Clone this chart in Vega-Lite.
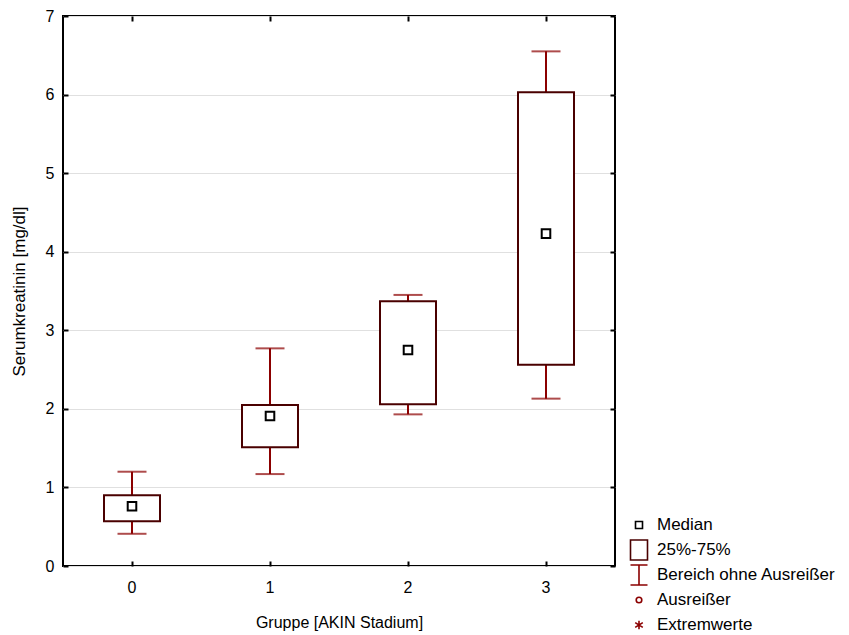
{
  "$schema": "https://vega.github.io/schema/vega-lite/v6.json",
  "autosize": {"type": "none"},
  "width": 552,
  "height": 550,
  "padding": {"left": 63, "top": 16, "right": 234, "bottom": 69},
  "background": "white",
  "config": {
    "font": "Liberation Sans",
    "view": {"stroke": "black", "strokeWidth": 2},
    "axis": {"labelFont": "Liberation Sans", "titleFont": "Liberation Sans", "labelColor": "black", "titleColor": "black", "titleFontWeight": "normal", "labelFontSize": 16, "titleFontSize": 16, "tickColor": "black", "tickWidth": 2, "domain": false},
    "legend": {"labelFont": "Liberation Sans", "labelFontSize": 17, "labelColor": "black", "labelLimit": 400}
  },
  "data": {"values": [
    {"group": "0", "lo": 0.41, "q1": 0.57, "median": 0.76, "q3": 0.9, "hi": 1.2, "stat": "Median"},
    {"group": "1", "lo": 1.17, "q1": 1.51, "median": 1.91, "q3": 2.05, "hi": 2.77, "stat": "Median"},
    {"group": "2", "lo": 1.93, "q1": 2.06, "median": 2.75, "q3": 3.37, "hi": 3.45, "stat": "Median"},
    {"group": "3", "lo": 2.13, "q1": 2.56, "median": 4.23, "q3": 6.03, "hi": 6.55, "stat": "Median"}
  ]},
  "resolve": {"axis": {"x": "independent", "y": "independent"}},
  "layer": [
    {
      "mark": {"type": "rule", "color": "#8b0000", "strokeWidth": 2},
      "encoding": {
        "x": {"field": "group", "type": "nominal", "scale": {"paddingInner": 0, "paddingOuter": 0},
              "axis": {"orient": "bottom", "title": "Gruppe [AKIN Stadium]", "labelAngle": 0, "tickSize": -5, "labelPadding": 18, "titlePadding": 19, "grid": false}},
        "y": {"field": "lo", "type": "quantitative", "scale": {"domain": [0, 7], "nice": false},
              "axis": {"orient": "left", "title": "Serumkreatinin [mg/dl]", "titleFontSize": 17, "tickSize": -5, "labelPadding": 14, "titlePadding": 17, "tickCount": 7, "grid": true, "gridColor": "#e0e0e0", "gridWidth": 1}},
        "y2": {"field": "hi"}
      }
    },
    {
      "mark": {"type": "tick", "color": "#8b0000", "thickness": 2, "size": 29, "orient": "horizontal"},
      "encoding": {
        "x": {"field": "group", "type": "nominal",
              "axis": {"orient": "top", "title": null, "labels": false, "tickSize": -5, "grid": false}},
        "y": {"field": "lo", "type": "quantitative",
              "axis": {"orient": "right", "title": null, "labels": false, "tickSize": -5, "tickCount": 7, "grid": false}}
      }
    },
    {
      "mark": {"type": "tick", "color": "#8b0000", "thickness": 2, "size": 29, "orient": "horizontal"},
      "encoding": {
        "x": {"field": "group", "type": "nominal", "axis": null},
        "y": {"field": "hi", "type": "quantitative", "axis": null}
      }
    },
    {
      "mark": {"type": "bar", "fill": "white", "stroke": "#4a0000", "strokeWidth": 2, "width": 56},
      "encoding": {
        "x": {"field": "group", "type": "nominal", "axis": null},
        "y": {"field": "q1", "type": "quantitative", "axis": null},
        "y2": {"field": "q3"}
      }
    },
    {
      "mark": {"type": "point", "filled": false, "strokeWidth": 2, "size": 600, "opacity": 1},
      "encoding": {
        "x": {"field": "group", "type": "nominal", "axis": null},
        "y": {"field": "median", "type": "quantitative", "axis": null},
        "shape": {"field": "stat", "type": "nominal",
                  "scale": {"domain": ["Median", "25%-75%", "Bereich ohne Ausreißer", "Ausreißer", "Extremwerte"],
                            "range": ["M-0.35,-0.35H0.35V0.35H-0.35Z", "M-0.85,-1H0.85V1H-0.85Z", "M-0.85,-1H0.85M0,-1V1M-0.85,1H0.85", "M0.28,0A0.28,0.28 0 1,1 -0.28,0A0.28,0.28 0 1,1 0.28,0", "M0,-0.42V0.42M-0.38,-0.24L0.38,0.24M-0.38,0.24L0.38,-0.24"]},
                  "legend": {"title": null, "orient": "none", "legendX": 565, "legendY": 498, "symbolSize": 400, "symbolStrokeWidth": 1.6, "rowPadding": -3, "labelOffset": 7, "gridAlign": "all"}},
        "color": {"field": "stat", "type": "nominal",
                  "scale": {"domain": ["Median", "25%-75%", "Bereich ohne Ausreißer", "Ausreißer", "Extremwerte"],
                            "range": ["black", "#4a0000", "#8b0000", "#8b0000", "#8b0000"]},
                  "legend": {"title": null, "orient": "none", "legendX": 565, "legendY": 498}}
      }
    }
  ]
}
